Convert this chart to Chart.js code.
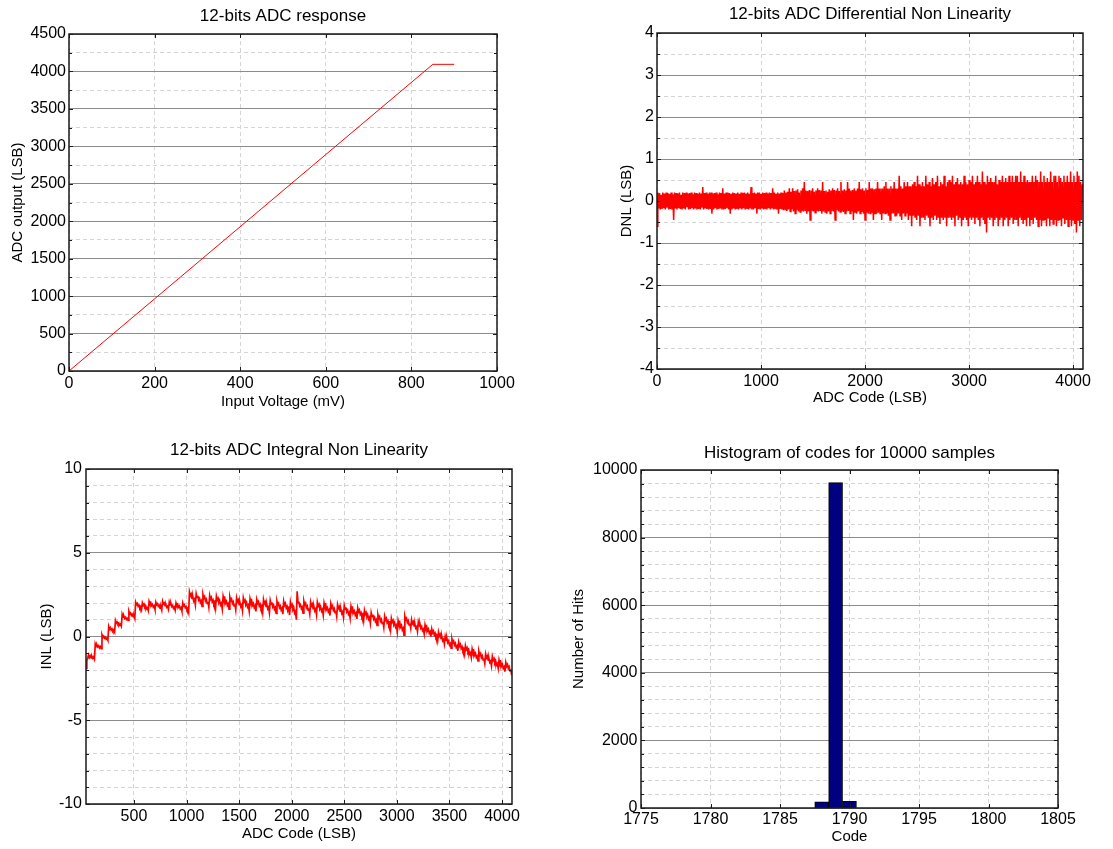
<!DOCTYPE html>
<html><head><meta charset="utf-8">
<script src="https://cdn.jsdelivr.net/npm/chart.js@4/dist/chart.umd.min.js"></script>
<style>
html,body{margin:0;padding:0;background:#fff;}
canvas{position:absolute;}
</style></head><body>
<canvas id="c1" width="556" height="424" style="left:0;top:0"></canvas>
<canvas id="c2" width="557" height="424" style="left:556px;top:0"></canvas>
<canvas id="c3" width="556" height="425" style="left:0;top:424px"></canvas>
<canvas id="c4" width="557" height="425" style="left:556px;top:424px"></canvas>
<script>
// ---------- Panel 1: ADC response ----------
const respVoltage = [0, 850, 900];
const respCode = [0, 4095, 4095];
const respXTicks = [0, 200, 400, 600, 800, 1000];
const respYTicks = [0, 500, 1000, 1500, 2000, 2500, 3000, 3500, 4000, 4500];
const respYMinor = [250, 750, 1250, 1750, 2250, 2750, 3250, 3750, 4250];

// ---------- Panel 2: DNL ----------
const dnlFirstCode = 0, dnlCodeStep = 8;
const dnlValues = [
-0.6,0.2,-0.18,0.19,-0.2,0.15,-0.19,0.2,-0.17,0.18,-0.2,0.2,-0.16,0.19,-0.2,0.17,
-0.19,0.2,-0.2,0.16,-0.45,0.2,-0.18,0.19,-0.2,0.18,-0.17,0.2,-0.19,0.15,-0.2,0.2,
-0.18,0.19,-0.2,0.2,-0.15,0.18,-0.2,0.19,-0.19,0.2,-0.17,0.16,-0.2,0.2,-0.18,0.19,
-0.2,0.17,-0.19,0.2,-0.2,0.18,-0.16,0.33,-0.2,0.19,-0.18,0.2,-0.19,0.17,-0.2,0.2,
-0.19,0.2,-0.3,0.18,-0.2,0.19,-0.17,0.2,-0.2,0.16,-0.19,0.2,-0.18,0.19,-0.2,0.3,
-0.2,0.18,-0.19,0.2,-0.17,0.2,-0.2,0.19,-0.3,0.17,-0.2,0.2,-0.18,0.19,-0.2,0.18,
-0.19,0.2,-0.2,0.17,-0.18,0.2,-0.2,0.19,-0.17,0.2,-0.2,0.18,-0.19,0.2,-0.2,0.17,
-0.18,0.33,-0.2,0.19,-0.2,0.2,-0.17,0.18,-0.3,0.2,-0.19,0.2,-0.2,0.17,-0.18,0.2,
-0.2,0.19,-0.19,0.2,-0.2,0.18,-0.17,0.2,-0.2,0.19,-0.18,0.3,-0.2,0.2,-0.19,0.17,
-0.2,0.2,-0.3,0.18,-0.19,0.2,-0.2,0.19,-0.22,0.25,-0.2,0.2,-0.24,0.22,-0.2,0.3,
-0.25,0.22,-0.2,0.3,-0.25,0.24,-0.3,0.25,-0.22,0.28,-0.25,0.2,-0.26,0.25,-0.24,0.3,
-0.25,0.45,-0.22,0.25,-0.3,0.24,-0.25,0.26,-0.45,0.25,-0.24,0.3,-0.25,0.22,-0.28,0.25,
-0.24,0.3,-0.25,0.26,-0.22,0.25,-0.3,0.45,-0.25,0.24,-0.26,0.25,-0.3,0.22,-0.25,0.28,
-0.3,0.25,-0.24,0.3,-0.25,0.26,-0.45,0.25,-0.22,0.3,-0.25,0.24,-0.26,0.45,-0.25,0.25,
-0.26,0.28,-0.3,0.25,-0.25,0.45,-0.24,0.3,-0.3,0.25,-0.25,0.26,-0.45,0.3,-0.26,0.25,
-0.3,0.3,-0.25,0.45,-0.3,0.28,-0.26,0.3,-0.3,0.25,-0.45,0.3,-0.28,0.26,-0.3,0.45,
-0.3,0.3,-0.28,0.3,-0.45,0.28,-0.3,0.3,-0.3,0.45,-0.28,0.3,-0.3,0.3,-0.45,0.3,
-0.3,0.35,-0.3,0.45,-0.3,0.3,-0.35,0.3,-0.45,0.35,-0.3,0.3,-0.3,0.45,-0.35,0.3,
-0.35,0.3,-0.3,0.6,-0.35,0.35,-0.45,0.3,-0.3,0.45,-0.35,0.35,-0.3,0.45,-0.45,0.35,
-0.35,0.35,-0.6,0.4,-0.35,0.45,-0.4,0.35,-0.45,0.6,-0.35,0.4,-0.6,0.35,-0.4,0.45,
-0.4,0.35,-0.45,0.6,-0.35,0.4,-0.4,0.45,-0.6,0.35,-0.4,0.55,-0.45,0.4,-0.35,0.45,
-0.45,0.6,-0.4,0.35,-0.55,0.45,-0.4,0.4,-0.45,0.6,-0.4,0.35,-0.6,0.45,-0.4,0.5,
-0.4,0.45,-0.45,0.6,-0.4,0.4,-0.6,0.45,-0.35,0.55,-0.45,0.4,-0.4,0.45,-0.6,0.4,
-0.45,0.6,-0.4,0.45,-0.45,0.4,-0.6,0.5,-0.4,0.45,-0.45,0.6,-0.4,0.4,-0.55,0.45,
-0.4,0.6,-0.45,0.45,-0.6,0.4,-0.4,0.7,-0.45,0.45,-0.55,0.4,-0.75,0.6,-0.4,0.45,
-0.45,0.55,-0.4,0.45,-0.6,0.45,-0.45,0.6,-0.4,0.4,-0.6,0.5,-0.45,0.45,-0.4,0.6,
-0.6,0.45,-0.45,0.55,-0.4,0.45,-0.6,0.6,-0.45,0.45,-0.4,0.6,-0.55,0.45,-0.45,0.6,
-0.45,0.6,-0.6,0.45,-0.4,0.7,-0.45,0.45,-0.55,0.6,-0.45,0.45,-0.6,0.5,-0.4,0.45,
-0.6,0.45,-0.45,0.6,-0.55,0.45,-0.4,0.6,-0.45,0.5,-0.6,0.45,-0.45,0.7,-0.6,0.45,
-0.45,0.6,-0.45,0.45,-0.6,0.55,-0.4,0.45,-0.6,0.7,-0.45,0.45,-0.55,0.6,-0.45,0.6,
-0.6,0.45,-0.45,0.6,-0.45,0.55,-0.6,0.45,-0.4,0.6,-0.55,0.45,-0.45,0.6,-0.6,0.45,
-0.45,0.7,-0.6,0.45,-0.45,0.6,-0.55,0.45,-0.75,0.7,-0.45,0.6,-0.6,0.45,-0.45,0.4
];
const dnlXTicks = [0, 1000, 2000, 3000, 4000];
const dnlYTicks = [-4, -3, -2, -1, 0, 1, 2, 3, 4];
const dnlYMinor = [-3.5, -2.5, -1.5, -0.5, 0.5, 1.5, 2.5, 3.5];

// ---------- Panel 3: INL ----------
const inlFirstCode = 44, inlCodeStep = 8;
const inlValues = [
-1.9,-1.45,-1.3,
-1.1,-1.25,-1.15,-1.28,-1.18,-1.3,-1.22,-1.35,
-0.45,-0.6,-0.5,-0.62,-0.55,-0.68,-0.6,-0.72,
0.1,-0.05,0.02,-0.1,-0.04,-0.16,-0.1,-0.22,
0.6,0.44,0.52,0.38,0.45,0.33,0.4,0.28,
0.95,0.8,0.87,0.74,0.8,0.68,0.74,0.62,
1.32,1.16,1.22,1.08,1.15,1.02,1.08,0.96,
1.5,1.34,1.4,1.26,1.33,1.18,1.24,1.08,
2.05,1.9,1.97,1.8,1.87,1.7,1.77,1.6,
2.0,1.86,1.93,1.76,1.82,1.66,1.72,1.55,
2.1,1.95,2.02,1.85,1.92,1.75,1.82,1.62,
2.05,1.9,1.96,1.8,1.86,1.7,1.76,1.58,
2.1,1.94,2.0,1.84,1.9,1.74,1.8,1.63,
2.05,1.88,1.96,1.78,1.85,1.68,1.75,1.57,
2.0,1.85,1.92,1.75,1.82,1.65,1.72,1.52,
2.0,1.84,1.9,1.72,1.78,1.6,1.66,1.45,
2.65,2.43,2.53,2.27,2.37,2.13,2.23,1.9,
2.55,2.33,2.43,2.17,2.27,2.03,2.13,1.8,
2.5,2.28,2.38,2.12,2.22,1.98,2.08,1.75,
2.45,2.23,2.33,2.07,2.17,1.93,2.03,1.7,
2.4,2.18,2.28,2.02,2.12,1.88,1.98,1.65,
2.4,2.17,2.27,2.0,2.1,1.86,1.96,1.63,
2.35,2.13,2.23,1.97,2.07,1.83,1.93,1.6,
2.3,2.08,2.18,1.92,2.02,1.78,1.88,1.55,
2.3,2.07,2.17,1.9,2.0,1.76,1.86,1.52,
2.25,2.03,2.13,1.87,1.97,1.73,1.83,1.5,
2.2,1.98,2.08,1.82,1.92,1.68,1.78,1.45,
2.2,1.97,2.07,1.8,1.9,1.66,1.76,1.42,
2.15,1.93,2.03,1.77,1.87,1.63,1.73,1.38,
2.1,1.88,1.98,1.72,1.82,1.58,1.68,1.33,
2.1,1.87,1.97,1.7,1.8,1.55,1.65,1.28,
2.05,1.8,1.9,1.6,1.7,1.4,1.5,1.0,
2.7,2.0,2.08,1.82,1.9,1.66,1.75,1.4,
2.1,1.88,1.98,1.72,1.82,1.58,1.68,1.35,
2.05,1.83,1.93,1.67,1.77,1.53,1.63,1.3,
2.05,1.82,1.92,1.65,1.75,1.51,1.61,1.28,
2.0,1.78,1.88,1.62,1.72,1.48,1.58,1.25,
1.95,1.73,1.83,1.57,1.67,1.43,1.53,1.2,
1.9,1.68,1.78,1.52,1.62,1.38,1.48,1.15,
1.85,1.63,1.73,1.47,1.57,1.33,1.43,1.1,
1.8,1.58,1.68,1.42,1.52,1.28,1.38,1.05,
1.7,1.48,1.58,1.32,1.42,1.18,1.28,0.95,
1.55,1.33,1.43,1.17,1.27,1.03,1.13,0.8,
1.42,1.2,1.3,1.04,1.14,0.9,1.0,0.67,
1.3,1.08,1.18,0.92,1.02,0.78,0.88,0.55,
1.2,0.98,1.08,0.82,0.92,0.68,0.78,0.42,
1.08,0.86,0.96,0.7,0.8,0.56,0.66,0.28,
0.95,0.73,0.83,0.57,0.67,0.4,0.5,0.08,
1.2,0.98,1.08,0.84,0.94,0.7,0.78,0.5,
1.0,0.78,0.88,0.64,0.74,0.5,0.58,0.3,
0.85,0.63,0.73,0.49,0.59,0.35,0.43,0.15,
0.7,0.48,0.58,0.34,0.44,0.2,0.28,0.0,
0.45,0.23,0.33,0.09,0.19,-0.05,0.03,-0.25,
0.25,0.03,0.13,-0.11,-0.01,-0.25,-0.17,-0.45,
0.0,-0.22,-0.12,-0.36,-0.26,-0.5,-0.42,-0.7,
-0.15,-0.37,-0.27,-0.51,-0.41,-0.65,-0.57,-0.85,
-0.35,-0.57,-0.47,-0.71,-0.61,-0.85,-0.77,-1.05,
-0.55,-0.77,-0.67,-0.91,-0.81,-1.05,-0.97,-1.25,
-0.75,-0.97,-0.87,-1.11,-1.01,-1.25,-1.17,-1.45,
-0.9,-1.12,-1.02,-1.26,-1.16,-1.4,-1.32,-1.6,
-1.05,-1.27,-1.17,-1.41,-1.31,-1.55,-1.47,-1.75,
-1.2,-1.42,-1.32,-1.56,-1.46,-1.7,-1.62,-1.9,
-1.4,-1.62,-1.52,-1.76,-1.66,-1.9,-1.82,-2.1,
-1.55,-1.77,-1.67,-1.91,-1.81,-2.05,-1.97,-2.3
];
const inlXTicks = [500, 1000, 1500, 2000, 2500, 3000, 3500, 4000];
const inlYTicks = [-10, -5, 0, 5, 10];
const inlYMinor = [-9, -8, -7, -6, -4, -3, -2, -1, 1, 2, 3, 4, 6, 7, 8, 9];

// ---------- Panel 4: Histogram ----------
const histCodes = [1788, 1789, 1790];
const histHits = [180, 9625, 195];
const histXTicks = [1775, 1780, 1785, 1790, 1795, 1800, 1805];
const histYTicks = [0, 2000, 4000, 6000, 8000, 10000];
const histYMinor = [400, 800, 1200, 1600, 2400, 2800, 3200, 3600, 4400, 4800, 5200, 5600, 6400, 6800, 7200, 7600, 8400, 8800, 9200, 9600];

// ---------- common styling ----------
const FONT = "'Liberation Sans', Arial, Helvetica, sans-serif";
Chart.defaults.font.family = FONT;
Chart.defaults.color = '#000';
const MAJOR = '#8c8c8c', MINOR = '#d4d4d4', DASH = [4, 3];

function fixTicks(values) { return s => { s.ticks = values.map(v => ({ value: v })); }; }

function xAxis(o) {
  return {
    type: 'linear', position: 'bottom', min: o.min, max: o.max, bounds: 'data', offset: false,
    afterBuildTicks: fixTicks(o.ticks),
    afterFit: s => { s.height = o.height; },
    ticks: { autoSkip: false, maxRotation: 0, minRotation: 0, padding: o.tickPad, font: { size: 16 }, color: '#000', callback: v => String(v) },
    grid: { color: MINOR, drawTicks: false, lineWidth: 1, offset: false },
    border: { display: false, dash: DASH },
    title: { display: true, text: o.title, color: '#000', font: { size: 15 }, padding: { top: 0, bottom: o.titlePad } }
  };
}
function yAxis(o) {
  return {
    type: 'linear', position: 'left', min: o.min, max: o.max, bounds: 'data',
    afterBuildTicks: fixTicks(o.ticks),
    afterFit: s => { s.width = o.width; },
    ticks: { autoSkip: false, padding: o.tickPad, font: { size: 16 }, color: '#000', callback: v => String(v) },
    grid: { color: MAJOR, drawTicks: false, lineWidth: 1 },
    border: { display: false },
    title: { display: true, text: o.title, color: '#000', font: { size: 15 }, padding: { top: o.titlePad, bottom: 0 } }
  };
}
function yMinorAxis(o) {
  return {
    type: 'linear', position: 'left', min: o.min, max: o.max, bounds: 'data',
    afterBuildTicks: fixTicks(o.minor),
    afterFit: s => { s.width = 0; },
    ticks: { display: false },
    grid: { color: MINOR, drawTicks: false, lineWidth: 1 },
    border: { display: false, dash: DASH }
  };
}
function titleOpt(text, pt, pb) {
  return { display: true, fullSize: false, text: text, color: '#000', font: { size: 17, weight: 'normal' }, padding: { top: pt, bottom: pb } };
}

const boxPlugin = {
  id: 'matlabBox',
  afterDatasetsDraw(chart) {
    const { ctx, chartArea: a } = chart;
    ctx.save();
    ctx.strokeStyle = '#1a1a1a';
    ctx.lineWidth = 1;
    Object.keys(chart.scales).forEach(id => {
      const s = chart.scales[id];
      const len = id === 'ym' ? 3 : 4;
      s.ticks.forEach(t => {
        const p = Math.round(s.getPixelForValue(t.value)) + 0.5;
        ctx.beginPath();
        if (s.isHorizontal()) {
          ctx.moveTo(p, a.bottom); ctx.lineTo(p, a.bottom - len);
          ctx.moveTo(p, a.top); ctx.lineTo(p, a.top + len);
        } else {
          ctx.moveTo(a.left, p); ctx.lineTo(a.left + len, p);
          ctx.moveTo(a.right, p); ctx.lineTo(a.right - len, p);
        }
        ctx.stroke();
      });
    });
    ctx.lineWidth = 1.5;
    ctx.strokeRect(Math.round(a.left), Math.round(a.top), Math.round(a.right - a.left), Math.round(a.bottom - a.top));
    ctx.restore();
  }
};

function baseOptions(o) {
  return {
    responsive: false, animation: false, events: [],
    layout: { padding: { left: 0, top: 0, right: o.right, bottom: 0 } },
    plugins: { legend: { display: false }, tooltip: { enabled: false }, title: o.title },
    scales: o.scales
  };
}

// Panel 1
new Chart(document.getElementById('c1'), {
  type: 'line',
  data: { datasets: [{ data: respVoltage.map((v, i) => ({ x: v, y: respCode[i] })), borderColor: '#ff0000', borderWidth: 1, pointRadius: 0, fill: false, tension: 0 }] },
  options: baseOptions({
    right: 59,
    title: titleOpt('12-bits ADC response', 6.5, 7.1),
    scales: {
      x: xAxis({ min: 0, max: 1000, ticks: respXTicks, height: 53, tickPad: 3, title: 'Input Voltage (mV)', titlePad: 13 }),
      ym: yMinorAxis({ min: 0, max: 4500, minor: respYMinor }),
      y: yAxis({ min: 0, max: 4500, ticks: respYTicks, width: 69, tickPad: 3, title: 'ADC output (LSB)', titlePad: 8.5 })
    }
  }),
  plugins: [boxPlugin]
});

// Panel 2
new Chart(document.getElementById('c2'), {
  type: 'line',
  data: { datasets: [{ data: dnlValues.map((v, i) => ({ x: dnlFirstCode + i * dnlCodeStep, y: v })), borderColor: '#ff0000', borderWidth: 1.5, pointRadius: 0, fill: false, tension: 0 }] },
  options: baseOptions({
    right: 30,
    title: titleOpt('12-bits ADC Differential Non Linearity', 4.1, 8.5),
    scales: {
      x: xAxis({ min: 0, max: 4095, ticks: dnlXTicks, height: 55, tickPad: 3, title: 'ADC Code (LSB)', titlePad: 16.7 }),
      ym: yMinorAxis({ min: -4, max: 4, minor: dnlYMinor }),
      y: yAxis({ min: -4, max: 4, ticks: dnlYTicks, width: 101, tickPad: 3, title: 'DNL (LSB)', titlePad: 62 })
    }
  }),
  plugins: [boxPlugin]
});

// Panel 3
new Chart(document.getElementById('c3'), {
  type: 'line',
  data: { datasets: [{ data: inlValues.map((v, i) => ({ x: inlFirstCode + i * inlCodeStep, y: v })), borderColor: '#ff0000', borderWidth: 1.7, pointRadius: 0, fill: false, tension: 0 }] },
  options: baseOptions({
    right: 44,
    title: titleOpt('12-bits ADC Integral Non Linearity', 16.5, 8.1),
    scales: {
      x: xAxis({ min: 44, max: 4095, ticks: inlXTicks, height: 45, tickPad: 3.4, title: 'ADC Code (LSB)', titlePad: 6 }),
      ym: yMinorAxis({ min: -10, max: 10, minor: inlYMinor }),
      y: yAxis({ min: -10, max: 10, ticks: inlYTicks, width: 86, tickPad: 4, title: 'INL (LSB)', titlePad: 37.7 })
    }
  }),
  plugins: [boxPlugin]
});

// Panel 4
new Chart(document.getElementById('c4'), {
  type: 'bar',
  data: { datasets: [{ data: histCodes.map((c, i) => ({ x: c, y: histHits[i] })), backgroundColor: '#000080', borderColor: '#000000', borderWidth: 1, barPercentage: 1, categoryPercentage: 1 }] },
  options: baseOptions({
    right: 55,
    title: titleOpt('Histogram of codes for 10000 samples', 18.8, 6.8),
    scales: {
      x: xAxis({ min: 1775, max: 1805, ticks: histXTicks, height: 41, tickPad: 2, title: 'Code', titlePad: 2.7 }),
      ym: yMinorAxis({ min: 0, max: 10000, minor: histYMinor }),
      y: yAxis({ min: 0, max: 10000, ticks: histYTicks, width: 85, tickPad: 3.5, title: 'Number of Hits', titlePad: 13.7 })
    }
  }),
  plugins: [boxPlugin]
});
</script>
</body></html>
